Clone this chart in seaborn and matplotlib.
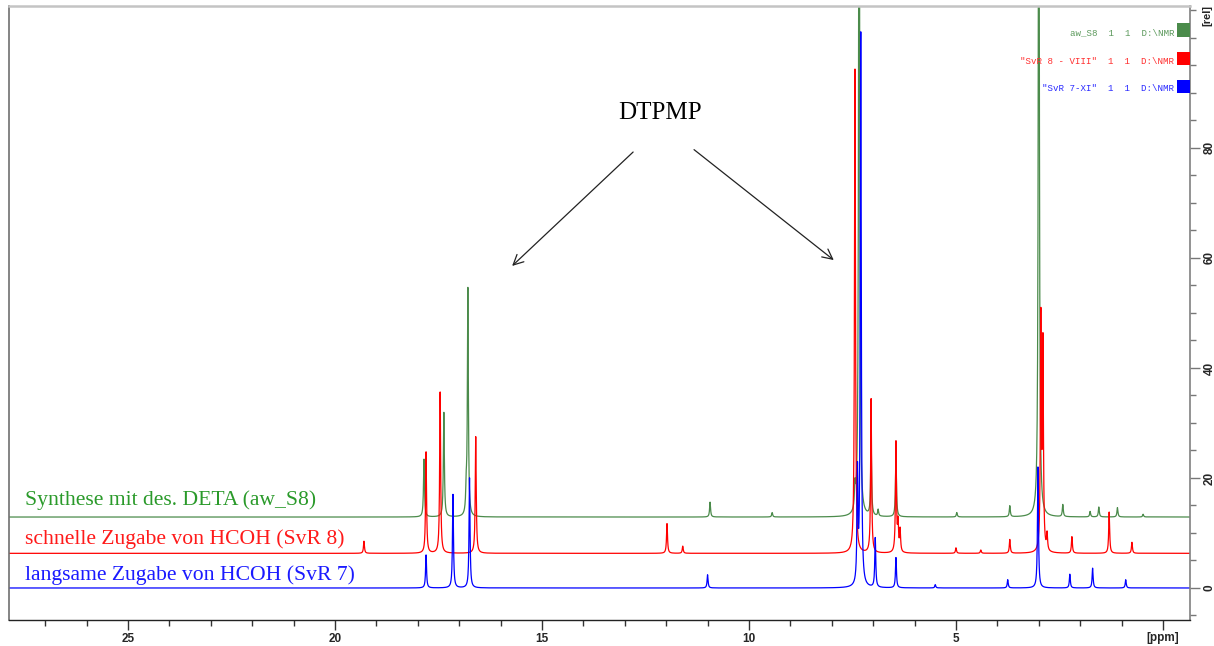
import numpy as np
import pandas as pd
import matplotlib
matplotlib.use("Agg")
import matplotlib.pyplot as plt
from matplotlib.patches import Rectangle
import seaborn as sns

# ---------------- data ----------------
series_names = ["aw_S8", "SvR 8", "SvR 7"]
offsets = [12.9, 6.3, 0.0]          # vertical stacking of the three spectra

green_pos = [17.85, 17.37, 16.79, 16.83, 10.94, 9.44, 7.44, 7.34, 7.05, 6.88, 6.45, 4.98, 3.70, 3.00, 2.42, 1.76, 1.55, 1.10, 0.48]
green_hgt = [10.5, 19.0, 41.3, 4.0, 2.7, 0.8, 4.0, 160.0, 13.0, 1.2, 10.7, 0.8, 2.0, 160.0, 2.2, 1.0, 1.8, 1.7, 0.5]

red_pos = [19.30, 17.80, 17.46, 16.60, 11.98, 11.60, 7.44, 7.05, 6.45, 6.40, 6.35, 5.00, 4.40, 3.70, 2.95, 2.90, 2.80, 2.20, 1.30, 0.75]
red_hgt = [2.2, 18.4, 29.3, 21.2, 5.4, 1.3, 88.0, 28.0, 20.0, 5.0, 4.0, 1.0, 0.6, 2.5, 42.0, 37.0, 3.0, 3.0, 7.5, 2.0]

blue_pos = [17.80, 17.15, 16.75, 11.00, 7.38, 7.30, 6.95, 6.45, 5.50, 3.75, 3.02, 2.25, 1.70, 0.90]
blue_hgt = [6.0, 17.0, 20.0, 2.4, 20.0, 100.5, 9.0, 5.5, 0.6, 1.5, 22.0, 2.5, 3.6, 1.5]

x_ticks = [25, 20, 15, 10, 5, 0]
x_ticklabels = ["25", "20", "15", "10", "5", "[ppm]"]
y_ticks = [0, 20, 40, 60, 80]

label_texts = ["Synthese mit des. DETA (aw_S8)",
               "schnelle Zugabe von HCOH (SvR 8)",
               "langsame Zugabe von HCOH (SvR 7)"]
legend_texts = ["aw_S8  1  1  D:\\NMR",
                "\"SvR 8 - VIII\"  1  1  D:\\NMR",
                "\"SvR 7-XI\"  1  1  D:\\NMR"]

line_colors = ["#4b8b4b", "#ff0000", "#0000ff"]
text_colors = ["#2a9a2a", "#ff1a1a", "#1a1aff"]
legend_text_colors = ["#5d9a5d", "#ff3030", "#2b2bff"]

# ---------------- spectra as Lorentzian line shapes ----------------
ppm = np.arange(-0.7, 27.95, 0.002)
gamma = 0.014


def spectrum(pos, hgt, off):
    y = np.full_like(ppm, off)
    for p, h in zip(pos, hgt):
        y += h * gamma ** 2 / ((ppm - p) ** 2 + gamma ** 2)
    return y


frames = []
for name, pos, hgt, off in zip(series_names,
                               [green_pos, red_pos, blue_pos],
                               [green_hgt, red_hgt, blue_hgt], offsets):
    frames.append(pd.DataFrame({"ppm": ppm, "intensity": spectrum(pos, hgt, off), "series": name}))
df = pd.concat(frames, ignore_index=True)

# ---------------- figure ----------------
sns.set_theme(style="white")
plt.rcParams["font.family"] = ["Liberation Sans", "DejaVu Sans"]

W, H = 1214, 646
fig = plt.figure(figsize=(W / 100, H / 100), dpi=100)
ax = fig.add_axes([9 / W, (H - 620) / H, (1190 - 9) / W, (620 - 6) / H])

sns.lineplot(data=df, x="ppm", y="intensity", hue="series", hue_order=series_names,
             palette=dict(zip(series_names, line_colors)), estimator=None, sort=False,
             legend=False, linewidth=0.9, ax=ax)

ax.set_xlim(27.874, -0.652)
ax.set_ylim(-5.82, 105.8)
ax.set_xlabel("")
ax.set_ylabel("")

# x axis
ax.set_xticks(x_ticks)
ax.set_xticklabels(x_ticklabels, fontsize=8.5, fontweight="bold")
ax.set_xticks(np.arange(0, 28, 1), minor=True)
ax.tick_params(axis="x", which="major", direction="out", length=7, width=1, color="#333333", pad=2,
               bottom=True)
ax.tick_params(axis="x", which="minor", direction="out", length=4, width=1, color="#333333", bottom=True)

# y axis on the right
ax.yaxis.tick_right()
ax.set_yticks(y_ticks)
ax.set_yticklabels([str(v) for v in y_ticks], fontsize=8.5, fontweight="bold", rotation=90, va="center")
ax.set_yticks(np.arange(-5, 106, 5), minor=True)
ax.tick_params(axis="y", which="major", direction="out", length=7, width=1, color="#777777", pad=3,
               right=True, left=False)
ax.tick_params(axis="y", which="minor", direction="out", length=4, width=1, color="#777777",
               right=True, left=False)

for side, col, lw in [("left", "#707070", 1.2), ("right", "#808080", 1.2),
                      ("top", "#c4c4c4", 1.8), ("bottom", "#222222", 1.0)]:
    ax.spines[side].set_visible(True)
    ax.spines[side].set_color(col)
    ax.spines[side].set_linewidth(lw)

ax.text(1.0144, 0.985, "[rel]", transform=ax.transAxes, rotation=90, fontsize=8,
        fontweight="bold", ha="center", va="center", clip_on=False)

# spectrum labels
label_y = [15.1, 8.0, 1.45]
for txt, yv, col in zip(label_texts, label_y, text_colors):
    ax.text(27.49, yv, txt, color=col, fontsize=15.6, family="Liberation Serif",
            ha="left", va="baseline")

# DTPMP annotation with arrows
ax.text(12.15, 86.4, "DTPMP", fontsize=18, family="Liberation Serif", ha="center", va="center",
        color="black")
arrow_kw = dict(arrowstyle="->", color="#222222", lw=0.9, mutation_scale=18)
ax.annotate("", xy=(15.77, 58.2), xytext=(12.75, 79.6), arrowprops=arrow_kw)
ax.annotate("", xy=(7.90, 59.3), xytext=(11.38, 80.0), arrowprops=arrow_kw)

# legend block in the upper right corner
leg_text_y = [0.956, 0.909, 0.865]
leg_box_y = [0.950, 0.904, 0.858]
for txt, ty, by, tcol, bcol in zip(legend_texts, leg_text_y, leg_box_y, legend_text_colors, line_colors):
    ax.text(0.9865, ty, txt, transform=ax.transAxes, color=tcol, fontsize=6.6,
            family="Liberation Mono", ha="right", va="center")
    ax.add_patch(Rectangle((0.9893, by), 0.0107, 0.0215, transform=ax.transAxes,
                           facecolor=bcol, edgecolor="none", clip_on=False, zorder=5))

fig.savefig("out.png", dpi=100)
